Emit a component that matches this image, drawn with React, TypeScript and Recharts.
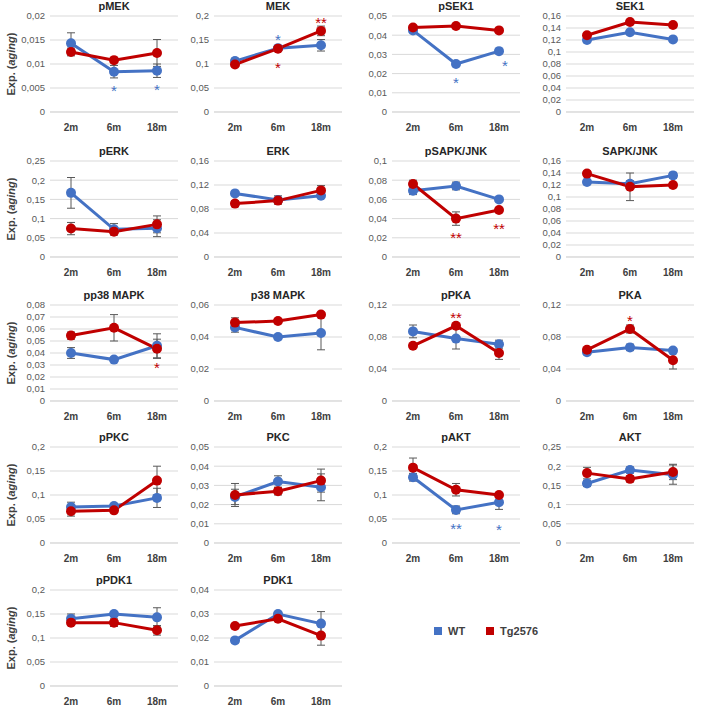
import React from 'react';
import { LineChart, Line, XAxis, YAxis, CartesianGrid, ErrorBar, LabelList } from 'recharts';

const months = ['2m', '6m', '18m'];

// values per panel: WT / Tg2576 means, SEM, significance marks (first char = placement)
const pMEK_wt = [0.0143, 0.0084, 0.0086];
const pMEK_wtErr = [0.0022, 0.0013, 0.0014];
const pMEK_tg = [0.0125, 0.0108, 0.0123];
const pMEK_tgErr = [0.0008, 0.0004, 0.0028];
const pMEK_wtStar = ['', 'd*', 'd*'];
const pMEK_ticks = [0, 0.005, 0.01, 0.015, 0.02];

const MEK_wt = [0.106, 0.133, 0.139];
const MEK_wtErr = [0.006, 0.003, 0.012];
const MEK_tg = [0.099, 0.132, 0.169];
const MEK_tgErr = [0.004, 0.004, 0.01];
const MEK_wtStar = ['', 'u*', ''];
const MEK_tgStar = ['', 'd*', 'u**'];
const MEK_ticks = [0, 0.05, 0.1, 0.15, 0.2];

const pSEK1_wt = [0.0425, 0.025, 0.0317];
const pSEK1_wtErr = [0.0005, 0.0005, 0.0005];
const pSEK1_tg = [0.044, 0.0448, 0.0425];
const pSEK1_tgErr = [0.0005, 0.0005, 0.0005];
const pSEK1_wtStar = ['', 'd*', 'r*'];
const pSEK1_ticks = [0, 0.01, 0.02, 0.03, 0.04, 0.05];

const SEK1_wt = [0.12, 0.133, 0.121];
const SEK1_wtErr = [0.002, 0.002, 0.002];
const SEK1_tg = [0.128, 0.15, 0.145];
const SEK1_tgErr = [0.002, 0.002, 0.002];
const SEK1_ticks = [0, 0.02, 0.04, 0.06, 0.08, 0.1, 0.12, 0.14, 0.16];

const pERK_wt = [0.167, 0.072, 0.075];
const pERK_wtErr = [0.04, 0.015, 0.022];
const pERK_tg = [0.074, 0.066, 0.085];
const pERK_tgErr = [0.016, 0.004, 0.022];
const pERK_ticks = [0, 0.05, 0.1, 0.15, 0.2, 0.25];

const ERK_wt = [0.106, 0.095, 0.102];
const ERK_wtErr = [0.002, 0.007, 0.003];
const ERK_tg = [0.089, 0.094, 0.111];
const ERK_tgErr = [0.005, 0.005, 0.008];
const ERK_ticks = [0, 0.04, 0.08, 0.12, 0.16];

const pSAPK_wt = [0.069, 0.074, 0.06];
const pSAPK_wtErr = [0.004, 0.004, 0.002];
const pSAPK_tg = [0.076, 0.04, 0.049];
const pSAPK_tgErr = [0.004, 0.007, 0.002];
const pSAPK_tgStar = ['', 'd**', 'd**'];
const pSAPK_ticks = [0, 0.02, 0.04, 0.06, 0.08, 0.1];

const SAPK_wt = [0.125, 0.122, 0.136];
const SAPK_wtErr = [0.003, 0.005, 0.005];
const SAPK_tg = [0.139, 0.117, 0.12];
const SAPK_tgErr = [0.004, 0.023, 0.004];
const SAPK_ticks = [0, 0.02, 0.04, 0.06, 0.08, 0.1, 0.12, 0.14, 0.16];

const pp38_wt = [0.04, 0.0345, 0.046];
const pp38_wtErr = [0.0045, 0.001, 0.01];
const pp38_tg = [0.0545, 0.061, 0.0435];
const pp38_tgErr = [0.003, 0.011, 0.008];
const pp38_tgStar = ['', '', 'd*'];
const pp38_ticks = [0, 0.01, 0.02, 0.03, 0.04, 0.05, 0.06, 0.07, 0.08];

const p38_wt = [0.046, 0.04, 0.0425];
const p38_wtErr = [0.003, 0.001, 0.0105];
const p38_tg = [0.049, 0.05, 0.054];
const p38_tgErr = [0.003, 0.001, 0.001];
const p38_ticks = [0, 0.02, 0.04, 0.06];

const pPKA_wt = [0.087, 0.078, 0.071];
const pPKA_wtErr = [0.008, 0.013, 0.005];
const pPKA_tg = [0.069, 0.094, 0.06];
const pPKA_tgErr = [0.002, 0.003, 0.008];
const pPKA_tgStar = ['', 'u**', ''];
const pPKA_ticks = [0, 0.04, 0.08, 0.12];

const PKA_wt = [0.061, 0.067, 0.063];
const PKA_wtErr = [0.002, 0.004, 0.002];
const PKA_tg = [0.064, 0.09, 0.051];
const PKA_tgErr = [0.002, 0.005, 0.011];
const PKA_tgStar = ['', 'u*', ''];
const PKA_ticks = [0, 0.04, 0.08, 0.12];

const pPKC_wt = [0.075, 0.077, 0.094];
const pPKC_wtErr = [0.01, 0.005, 0.02];
const pPKC_tg = [0.066, 0.068, 0.13];
const pPKC_tgErr = [0.01, 0.004, 0.03];
const pPKC_ticks = [0, 0.05, 0.1, 0.15, 0.2];

const PKC_wt = [0.024, 0.032, 0.029];
const PKC_wtErr = [0.004, 0.003, 0.007];
const PKC_tg = [0.025, 0.027, 0.0325];
const PKC_tgErr = [0.006, 0.002, 0.006];
const PKC_ticks = [0, 0.01, 0.02, 0.03, 0.04, 0.05];

const pAKT_wt = [0.137, 0.069, 0.085];
const pAKT_wtErr = [0.008, 0.008, 0.015];
const pAKT_tg = [0.157, 0.111, 0.1];
const pAKT_tgErr = [0.02, 0.013, 0.004];
const pAKT_wtStar = ['', 'd**', 'D*'];
const pAKT_ticks = [0, 0.05, 0.1, 0.15, 0.2];

const AKT_wt = [0.155, 0.19, 0.178];
const AKT_wtErr = [0.008, 0.008, 0.025];
const AKT_tg = [0.182, 0.167, 0.185];
const AKT_tgErr = [0.015, 0.008, 0.02];
const AKT_ticks = [0, 0.05, 0.1, 0.15, 0.2, 0.25];

const pPDK1_wt = [0.14, 0.15, 0.143];
const pPDK1_wtErr = [0.01, 0.005, 0.02];
const pPDK1_tg = [0.132, 0.132, 0.116];
const pPDK1_tgErr = [0.005, 0.008, 0.01];
const pPDK1_ticks = [0, 0.05, 0.1, 0.15, 0.2];

const PDK1_wt = [0.019, 0.03, 0.026];
const PDK1_wtErr = [0.001, 0.001, 0.005];
const PDK1_tg = [0.025, 0.028, 0.021];
const PDK1_tgErr = [0.001, 0.001, 0.004];
const PDK1_ticks = [0, 0.01, 0.02, 0.03, 0.04];

const none = ['', '', ''];

const panels = [
  { title: 'pMEK', wt: pMEK_wt, wtErr: pMEK_wtErr, tg: pMEK_tg, tgErr: pMEK_tgErr, wtStar: pMEK_wtStar, tgStar: none, ticks: pMEK_ticks },
  { title: 'MEK', wt: MEK_wt, wtErr: MEK_wtErr, tg: MEK_tg, tgErr: MEK_tgErr, wtStar: MEK_wtStar, tgStar: MEK_tgStar, ticks: MEK_ticks },
  { title: 'pSEK1', wt: pSEK1_wt, wtErr: pSEK1_wtErr, tg: pSEK1_tg, tgErr: pSEK1_tgErr, wtStar: pSEK1_wtStar, tgStar: none, ticks: pSEK1_ticks },
  { title: 'SEK1', wt: SEK1_wt, wtErr: SEK1_wtErr, tg: SEK1_tg, tgErr: SEK1_tgErr, wtStar: none, tgStar: none, ticks: SEK1_ticks },
  { title: 'pERK', wt: pERK_wt, wtErr: pERK_wtErr, tg: pERK_tg, tgErr: pERK_tgErr, wtStar: none, tgStar: none, ticks: pERK_ticks },
  { title: 'ERK', wt: ERK_wt, wtErr: ERK_wtErr, tg: ERK_tg, tgErr: ERK_tgErr, wtStar: none, tgStar: none, ticks: ERK_ticks },
  { title: 'pSAPK/JNK', wt: pSAPK_wt, wtErr: pSAPK_wtErr, tg: pSAPK_tg, tgErr: pSAPK_tgErr, wtStar: none, tgStar: pSAPK_tgStar, ticks: pSAPK_ticks },
  { title: 'SAPK/JNK', wt: SAPK_wt, wtErr: SAPK_wtErr, tg: SAPK_tg, tgErr: SAPK_tgErr, wtStar: none, tgStar: none, ticks: SAPK_ticks },
  { title: 'pp38 MAPK', wt: pp38_wt, wtErr: pp38_wtErr, tg: pp38_tg, tgErr: pp38_tgErr, wtStar: none, tgStar: pp38_tgStar, ticks: pp38_ticks },
  { title: 'p38 MAPK', wt: p38_wt, wtErr: p38_wtErr, tg: p38_tg, tgErr: p38_tgErr, wtStar: none, tgStar: none, ticks: p38_ticks },
  { title: 'pPKA', wt: pPKA_wt, wtErr: pPKA_wtErr, tg: pPKA_tg, tgErr: pPKA_tgErr, wtStar: none, tgStar: pPKA_tgStar, ticks: pPKA_ticks },
  { title: 'PKA', wt: PKA_wt, wtErr: PKA_wtErr, tg: PKA_tg, tgErr: PKA_tgErr, wtStar: none, tgStar: PKA_tgStar, ticks: PKA_ticks },
  { title: 'pPKC', wt: pPKC_wt, wtErr: pPKC_wtErr, tg: pPKC_tg, tgErr: pPKC_tgErr, wtStar: none, tgStar: none, ticks: pPKC_ticks },
  { title: 'PKC', wt: PKC_wt, wtErr: PKC_wtErr, tg: PKC_tg, tgErr: PKC_tgErr, wtStar: none, tgStar: none, ticks: PKC_ticks },
  { title: 'pAKT', wt: pAKT_wt, wtErr: pAKT_wtErr, tg: pAKT_tg, tgErr: pAKT_tgErr, wtStar: pAKT_wtStar, tgStar: none, ticks: pAKT_ticks },
  { title: 'AKT', wt: AKT_wt, wtErr: AKT_wtErr, tg: AKT_tg, tgErr: AKT_tgErr, wtStar: none, tgStar: none, ticks: AKT_ticks },
  { title: 'pPDK1', wt: pPDK1_wt, wtErr: pPDK1_wtErr, tg: pPDK1_tg, tgErr: pPDK1_tgErr, wtStar: none, tgStar: none, ticks: pPDK1_ticks },
  { title: 'PDK1', wt: PDK1_wt, wtErr: PDK1_wtErr, tg: PDK1_tg, tgErr: PDK1_tgErr, wtStar: none, tgStar: none, ticks: PDK1_ticks },
];

const BLUE = '#4472C4';
const RED = '#C00000';
const FONT = '"Liberation Sans", Arial, sans-serif';

const plotLefts = [50, 214, 392, 566];
const plotTops = [16, 161, 305, 447, 590];
const PLOT_W = 128;
const PLOT_H = 96;
const AXIS_W = 40;
const TOP_M = 20;
const PAD = 21;

const fmt = (v: number) => String(v).replace('.', ',');

const starRenderer = (color: string) => (props: any) => {
  const { x, y, value } = props;
  if (!value || typeof value !== 'string') return null;
  const pos = value[0];
  const text = value.slice(1);
  let dx = 0;
  let dy = 0;
  if (pos === 'u') dy = -3;
  if (pos === 'd') dy = 24;
  if (pos === 'D') dy = 33;
  if (pos === 'r') { dx = 6; dy = 20; }
  return (
    <text x={x + dx} y={y + dy} textAnchor="middle" fontSize={15} fill={color} fontFamily={FONT}>
      {text}
    </text>
  );
};

const Panel: React.FC<{ p: typeof panels[number]; row: number; col: number }> = ({ p, row, col }) => {
  const data = months.map((m, i) => ({
    month: m,
    wt: p.wt[i],
    wtErr: p.wtErr[i],
    tg: p.tg[i],
    tgErr: p.tgErr[i],
    wtStar: p.wtStar[i],
    tgStar: p.tgStar[i],
  }));
  const left = plotLefts[col] - AXIS_W;
  const top = plotTops[row] - TOP_M;
  const max = p.ticks[p.ticks.length - 1];
  return (
    <div style={{ position: 'absolute', left, top }}>
      <div
        style={{
          position: 'absolute',
          left: AXIS_W,
          width: PLOT_W,
          top: 4,
          textAlign: 'center',
          fontFamily: FONT,
          fontWeight: 'bold',
          fontSize: 11,
          color: '#262626',
        }}
      >
        {p.title}
      </div>
      <LineChart width={AXIS_W + PLOT_W + 6} height={TOP_M + PLOT_H + 30} data={data} margin={{ top: TOP_M, right: 6, left: 0, bottom: 0 }}>
        <CartesianGrid vertical={false} stroke="#D9D9D9" />
        <XAxis
          dataKey="month"
          height={30}
          padding={{ left: PAD, right: PAD }}
          tickLine={false}
          axisLine={{ stroke: '#D9D9D9' }}
          tickMargin={6}
          tick={{ fontSize: 10, fontWeight: 'bold', fill: '#404040', fontFamily: FONT }}
        />
        <YAxis
          width={AXIS_W}
          domain={[0, max]}
          ticks={p.ticks}
          interval={0}
          tickFormatter={fmt}
          axisLine={false}
          tickLine={false}
          tickSize={3}
          tickMargin={2}
          tick={{ fontSize: 9.5, fill: '#595959', fontFamily: FONT }}
        />
        <Line dataKey="wt" stroke={BLUE} strokeWidth={3} dot={{ r: 5, fill: BLUE, stroke: BLUE, strokeWidth: 0 }} activeDot={false} isAnimationActive={false}>
          <ErrorBar dataKey="wtErr" width={4} stroke="#595959" strokeWidth={1} direction="y" />
          <LabelList dataKey="wtStar" content={starRenderer(BLUE)} />
        </Line>
        <Line dataKey="tg" stroke={RED} strokeWidth={3} dot={{ r: 5, fill: RED, stroke: RED, strokeWidth: 0 }} activeDot={false} isAnimationActive={false}>
          <ErrorBar dataKey="tgErr" width={4} stroke="#595959" strokeWidth={1} direction="y" />
          <LabelList dataKey="tgStar" content={starRenderer(RED)} />
        </Line>
      </LineChart>
    </div>
  );
};

const YLabel: React.FC<{ row: number }> = ({ row }) => (
  <div
    style={{
      position: 'absolute',
      left: 11,
      top: plotTops[row] + PLOT_H / 2,
      transform: 'translate(-50%, -50%) rotate(-90deg)',
      whiteSpace: 'nowrap',
      fontFamily: FONT,
      fontWeight: 'bold',
      fontSize: 11,
      color: '#404040',
    }}
  >
    Exp. (<i>aging</i>)
  </div>
);

export default function App() {
  return (
    <div style={{ position: 'absolute', left: 0, top: 0, width: 708, height: 723, background: '#fff', overflow: 'hidden' }}>
      {panels.map((p, i) => (
        <Panel key={p.title} p={p} row={Math.floor(i / 4)} col={i % 4} />
      ))}
      {[0, 1, 2, 3, 4].map((r) => (
        <YLabel key={r} row={r} />
      ))}
      <div style={{ position: 'absolute', left: 434, top: 625, display: 'flex', alignItems: 'center', fontFamily: FONT, fontWeight: 'bold', fontSize: 11, color: '#404040' }}>
        <span style={{ width: 8, height: 8, background: BLUE, display: 'inline-block', marginRight: 6 }} />
        <span style={{ marginRight: 21 }}>WT</span>
        <span style={{ width: 8, height: 8, background: RED, display: 'inline-block', marginRight: 6 }} />
        <span>Tg2576</span>
      </div>
    </div>
  );
}
